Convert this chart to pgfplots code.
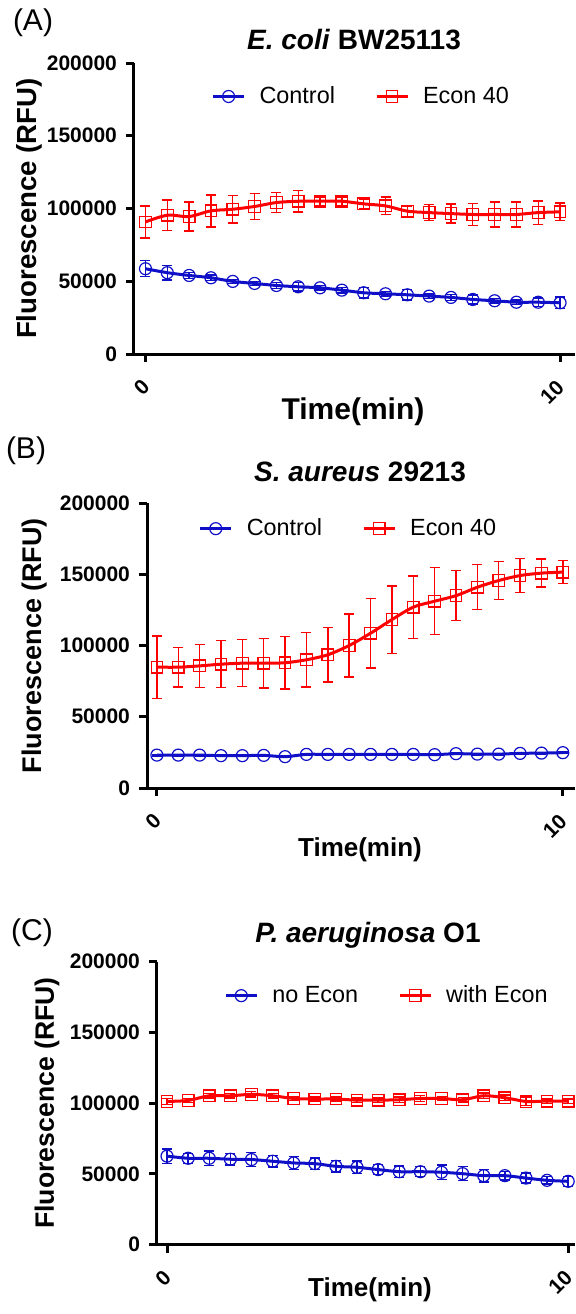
\documentclass[border=0pt]{standalone}
\usepackage{fontspec}
\setmainfont{Liberation Sans}
\usepackage{pgfplots}
\usepackage{pgfplotstable}
\pgfplotsset{compat=1.18}
\definecolor{pblue}{RGB}{15,15,200}
\definecolor{pred}{RGB}{255,0,0}

\pgfplotstableread{
x c ce e ee
0 58600 5500 90800 11000
0.5263 55900 5000 95400 10500
1.0526 54000 2000 94500 10000
1.5789 52400 2000 98400 11000
2.1053 49900 1500 99500 9500
2.6316 48500 1500 101400 9000
3.1579 47100 2000 104100 7000
3.6842 46200 3000 105000 7500
4.2105 45500 1500 105000 3000
4.7368 43900 2000 105000 3000
5.2632 42100 3500 103200 3000
5.7895 41400 1500 101800 6000
6.3158 40700 3500 98200 3500
6.8421 39800 1500 97200 5500
7.3684 38900 2000 96500 6500
7.8947 37500 3000 95900 7500
8.4211 36600 1500 95900 8500
8.9474 35600 1500 95900 8500
9.4737 35600 3000 97200 8000
10 35200 4000 97700 6000
}\dataA

\pgfplotstableread{
x c ce e ee
0 23100 500 84800 22000
0.5263 23100 500 84800 14000
1.0526 23100 500 85700 15000
1.5789 22700 500 86900 16500
2.1053 22700 500 87600 16500
2.6316 22900 500 87600 17500
3.1579 22000 500 87900 18500
3.6842 23600 500 90000 19000
4.2105 23600 500 93500 19000
4.7368 23600 500 100000 22000
5.2632 23600 500 108600 24500
5.7895 23600 500 118200 23700
6.3158 23600 500 126900 22000
6.8421 23400 500 131100 23500
7.3684 24100 500 135000 17500
7.8947 23800 500 140900 15800
8.4211 23800 500 145600 13400
8.9474 24300 500 149100 12000
9.4737 24500 500 150800 9800
10 24800 500 151500 8000
}\dataB

\pgfplotstableread{
x c ce e ee
0 62500 5000 101200 2000
0.5263 61000 3500 101900 1500
1.0526 61000 5000 105200 1500
1.5789 60300 4000 105200 1500
2.1053 60100 5000 106200 2000
2.6316 58900 4000 105200 1500
3.1579 57700 4500 103300 1500
3.6842 57200 4000 102900 1500
4.2105 55300 4000 102900 1500
4.7368 54600 4500 102100 1500
5.2632 53000 3500 102100 1500
5.7895 51500 4000 102400 2000
6.3158 51500 3500 103300 2000
6.8421 51100 5000 103300 1500
7.3684 50100 5000 102400 1500
7.8947 48700 4500 105200 2000
8.4211 48700 3000 103800 2000
8.9474 47000 3500 101200 3000
9.4737 45400 2500 101400 1500
10 44700 3500 101400 1500
}\dataC

\pgfplotsset{
  prism/.style={
    scale only axis,
    anchor=south west,
    axis x line*=bottom, axis y line*=left,
    axis line style={line width=1.5pt,-},
    ymin=0, ymax=200000,
    xtick={0,10}, ytick={0,50000,100000,150000,200000},
    scaled y ticks=false,
    tick align=outside,
    major tick length=4pt,
    tick style={line width=1.5pt,black},
    /pgf/number format/.cd, fixed, precision=0, 1000 sep={}, assume math mode=true, /pgfplots/.cd,
    ticklabel style={font=\bfseries\fontsize{10.5}{12}\selectfont},
    yticklabel style={xshift=-1pt},
    xticklabel style={rotate=45, anchor=north east, xshift=-4pt, yshift=-0.5pt},
    clip=false,
    legend columns=2,
    legend cell align=left,
    legend style={draw=none, fill=none, font=\fontsize{11.7}{13}\selectfont,
      anchor=west, inner sep=0pt,
      /tikz/every even column/.append style={column sep=18pt}},
    legend image code/.code={\draw[mark repeat=2,mark phase=2] plot coordinates {(0pt,0pt) (7.75pt,0pt) (15.5pt,0pt)};
      \path (20.5pt,0pt);},
  },
  ctrl/.style={pblue, line width=1.5pt, smooth, tension=0.5, mark=o, mark size=3pt,
    mark options={line width=0.6pt, solid},
    error bars/.cd, y dir=both, y explicit,
    error bar style={line width=0.7pt, draw=pblue, color=pblue},
    error mark options={rotate=90, mark size=2.5pt, line width=0.7pt, draw=pblue, color=pblue}},
  econ/.style={pred, line width=1.5pt, smooth, tension=0.5, mark=square, mark size=2.9pt,
    mark options={line width=0.6pt, solid},
    error bars/.cd, y dir=both, y explicit,
    error bar style={line width=0.7pt, draw=pred, color=pred},
    error mark options={rotate=90, mark size=2.5pt, line width=0.7pt, draw=pred, color=pred}},
}

\begin{document}
\begin{tikzpicture}
\useasboundingbox (0,0) rectangle (287.5pt,-657pt);

% ---------- Panel A ----------
\begin{axis}[prism, at={(67pt,-177pt)}, width=220.5pt, height=145.5pt,
  xmin=-0.277, xmax=10.36,
  legend style={at={(axis description cs:0.175,0.885)}}]
\addplot[ctrl] table[x=x, y=c, y error=ce] {\dataA};
\addlegendentry{Control}
\addplot[econ] table[x=x, y=e, y error=ee] {\dataA};
\addlegendentry{Econ 40}
\end{axis}
\node[font=\fontsize{15}{17}\selectfont] at (16.5pt,-11.5pt) {(A)};
\node[font=\bfseries\fontsize{14}{16}\selectfont] at (177pt,-20pt) {\textit{E. coli} BW25113};
\node[rotate=90, font=\bfseries\fontsize{13.8}{16}\selectfont] at (14.5pt,-104.25pt) {Fluorescence (RFU)};
\node[font=\bfseries\fontsize{15}{17}\selectfont] at (176.5pt,-206pt) {Time(min)};

% ---------- Panel B ----------
\begin{axis}[prism, at={(73.5pt,-394pt)}, width=214pt, height=142.5pt,
  xmin=-0.244, xmax=10.30,
  legend style={at={(axis description cs:0.12,0.91)}}]
\addplot[ctrl] table[x=x, y=c, y error=ce] {\dataB};
\addlegendentry{Control}
\addplot[econ] table[x=x, y=e, y error=ee] {\dataB};
\addlegendentry{Econ 40}
\end{axis}
\node[font=\fontsize{15}{17}\selectfont] at (13pt,-225.5pt) {(B)};
\node[font=\bfseries\fontsize{14}{16}\selectfont] at (180pt,-236pt) {\textit{S. aureus} 29213};
\node[rotate=90, font=\bfseries\fontsize{13.5}{16}\selectfont] at (17.5pt,-322.75pt) {Fluorescence (RFU)};
\node[font=\bfseries\fontsize{13}{15}\selectfont] at (180pt,-425pt) {Time(min)};

% ---------- Panel C ----------
\begin{axis}[prism, at={(78.5pt,-622.25pt)}, width=209pt, height=141.4pt,
  xmin=-0.25, xmax=10.17,
  legend style={at={(axis description cs:0.16,0.88)}}]
\addplot[ctrl] table[x=x, y=c, y error=ce] {\dataC};
\addlegendentry{no Econ}
\addplot[econ] table[x=x, y=e, y error=ee] {\dataC};
\addlegendentry{with Econ}
\end{axis}
\node[font=\fontsize{15}{17}\selectfont] at (16pt,-466.5pt) {(C)};
\node[font=\bfseries\fontsize{14}{16}\selectfont] at (184pt,-467.5pt) {\textit{P. aeruginosa} O1};
\node[rotate=90, font=\bfseries\fontsize{13.3}{16}\selectfont] at (23.5pt,-551.5pt) {Fluorescence (RFU)};
\node[font=\bfseries\fontsize{13}{15}\selectfont] at (185pt,-645pt) {Time(min)};
\end{tikzpicture}
\end{document}
